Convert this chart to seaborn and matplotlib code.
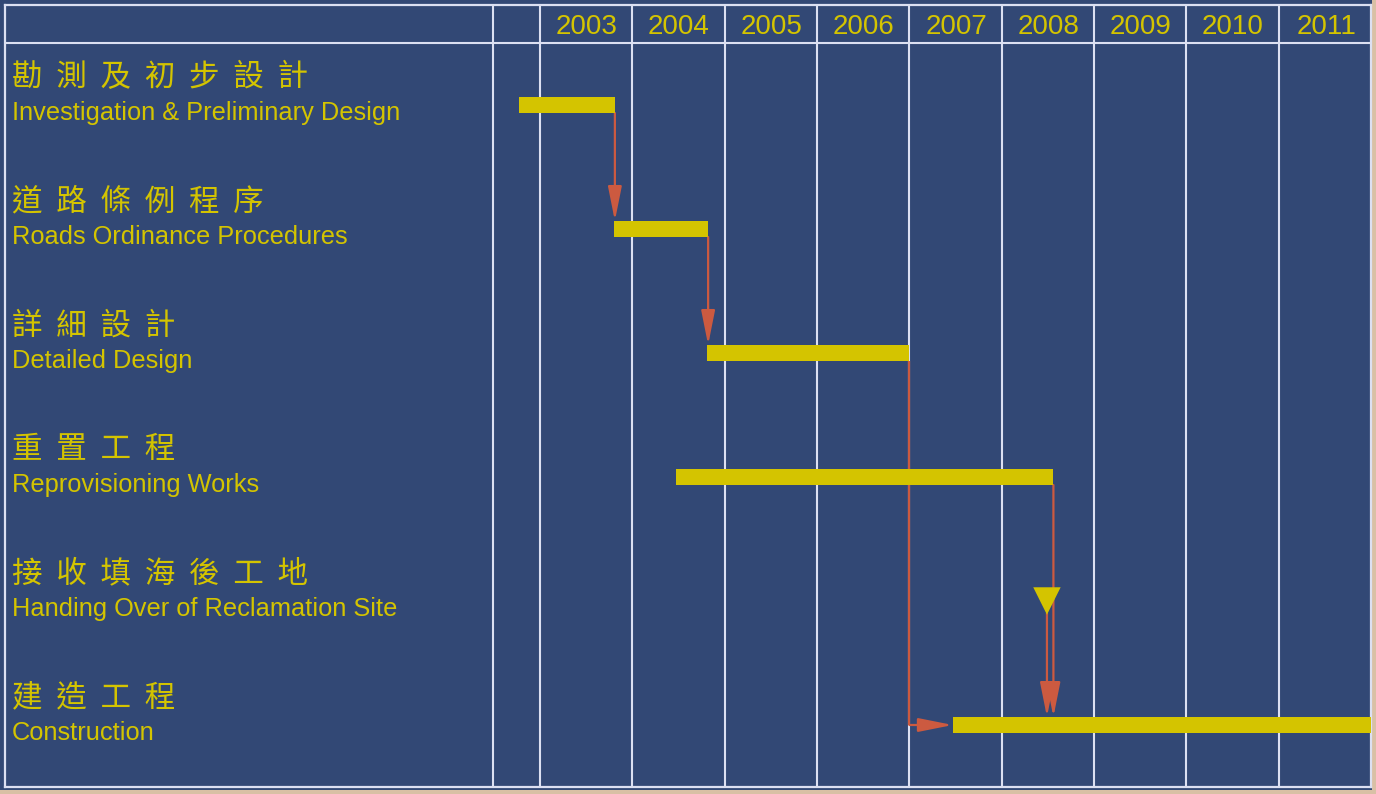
import matplotlib
matplotlib.use("Agg")
import matplotlib.pyplot as plt
import seaborn as sns
import pandas as pd

# 項目資料
tasks_zh = ["勘測及初步設計", "道路條例程序", "詳細設計", "重置工程", "接收填海後工地", "建造工程"]
tasks_en = ["Investigation & Preliminary Design", "Roads Ordinance Procedures", "Detailed Design",
            "Reprovisioning Works", "Handing Over of Reclamation Site", "Construction"]
starts = [2002.77, 2003.80, 2004.81, 2004.47, None, 2007.47]
ends = [2003.81, 2004.82, 2007.00, 2008.56, None, 2012.00]
milestone_row = 4
milestone_time = 2008.49
years = [2003, 2004, 2005, 2006, 2007, 2008, 2009, 2010, 2011]

# 依賴關係 (from row, to row)
links = [(0, 1), (1, 2), (2, 5), (3, 5), (4, 5)]

BLUE = "#324875"
YELLOW = "#D4C400"
RED = "#CC5A40"
LINE = "#DCE0F2"

sns.set_style("white")
plt.rcParams["font.family"] = ["Liberation Sans", "DejaVu Sans"]

fig = plt.figure(figsize=(13.76, 7.94), dpi=100, facecolor="#D9C0A5")
# 藍色底
fig.patches.append(plt.Rectangle((0, 4 / 794), 1372 / 1376, 790 / 794, transform=fig.transFigure,
                                 facecolor=BLUE, edgecolor="none", zorder=-10))
ax = fig.add_axes([5 / 1376, 7 / 794, 1366 / 1376, 782 / 794])
ax.set_facecolor(BLUE)
ax.set_xlim(1997.204, 2012.0)
ax.set_ylim(5.5, -0.806)
ax.set_xticks([])
ax.set_yticks([])
for sp in ax.spines.values():
    sp.set_visible(True)
    sp.set_color(LINE)
    sp.set_linewidth(1.6)

# 格線
for x in [2002.49] + years:
    ax.axvline(x, color=LINE, lw=1.5, zorder=1)
ax.axhline(-0.5, color=LINE, lw=1.5, zorder=1)

# 年份
for y in years:
    ax.text(y + 0.84, -0.63, str(y), color=YELLOW, fontsize=20, ha="right", va="center")

# 項目名稱
tr = ax.get_yaxis_transform()
for i, (zh, en) in enumerate(zip(tasks_zh, tasks_en)):
    ax.text(0.005, i - 0.22, "  ".join(zh), transform=tr, color=YELLOW, fontsize=22,
            family=["Noto Sans CJK TC", "DejaVu Sans"], fontweight="light", va="center", ha="left")
    ax.text(0.005, i + 0.062, en, transform=tr, color=YELLOW, fontsize=18.3, va="center", ha="left")

# 條形
df = pd.DataFrame({"row": range(len(tasks_en)), "start": starts, "end": ends}).dropna()
ax.barh(df["row"], df["end"] - df["start"], left=df["start"], height=0.13,
        color=YELLOW, edgecolor="none", linewidth=0, zorder=4)

# 里程碑
ms = pd.DataFrame({"t": [milestone_time], "row": [milestone_row]})
sns.scatterplot(data=ms, x="t", y="row", marker="v", s=390, color=YELLOW, edgecolor="none",
                ax=ax, zorder=5, legend=False)

# 箭頭
half = 0.065
aprops = dict(arrowstyle="-|>,head_length=2.1,head_width=0.42", color=RED, lw=1.6,
              shrinkA=0, shrinkB=0, mutation_scale=10)
for a, b in links:
    if a == 4:
        x0, y0 = milestone_time, milestone_row + 0.1
    else:
        x0, y0 = ends[a], a + half
    if a == 2:
        # L 形: 向下再向右
        ax.plot([x0, x0], [y0, b], color=RED, lw=1.6, zorder=3, solid_capstyle="butt")
        ax.annotate("", xy=(starts[b], b), xytext=(x0, b), arrowprops=aprops, zorder=3)
    else:
        ax.annotate("", xy=(x0, b - half), xytext=(x0, y0), arrowprops=aprops, zorder=3)

fig.savefig("out.png", dpi=100, facecolor=fig.get_facecolor())
